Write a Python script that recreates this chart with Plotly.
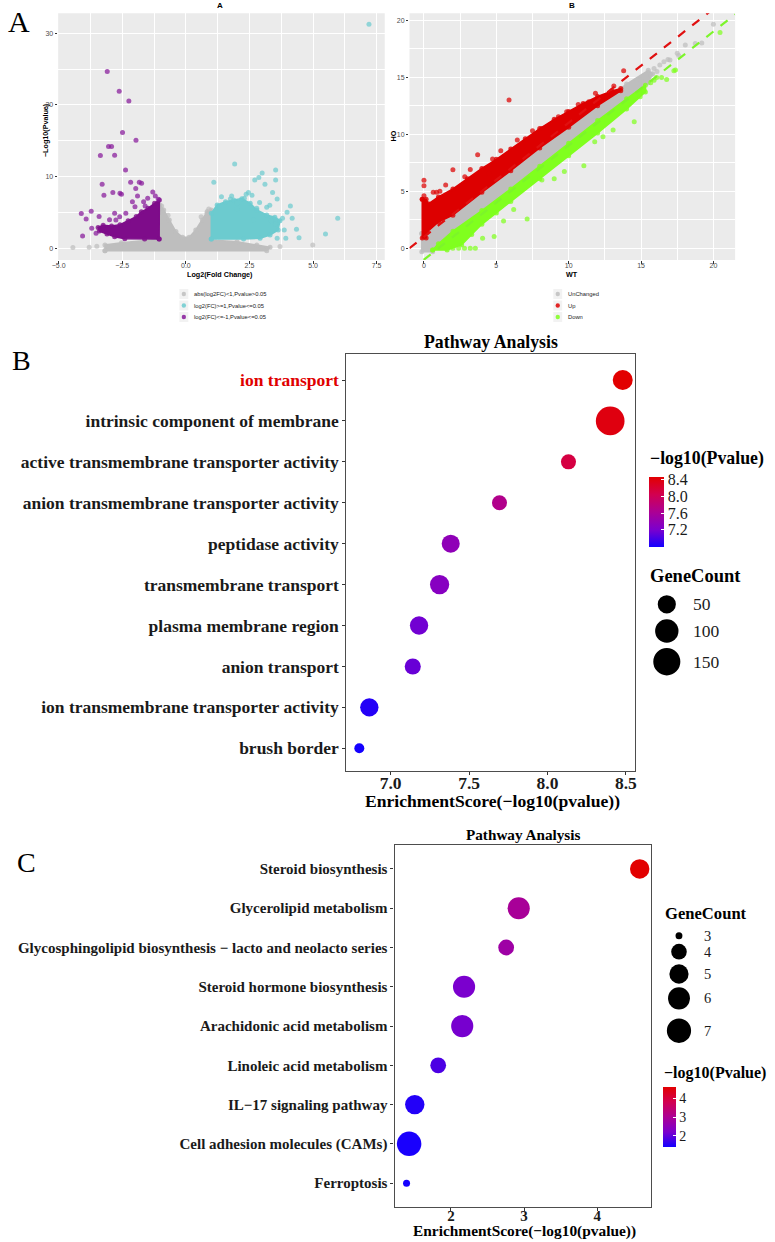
import plotly.graph_objects as go

W, H = 775, 1242
SERIF = "Liberation Serif"
SANS = "Liberation Sans"

# ================= Panel A-left : volcano plot =================
volc_gray_poly_x = [-3.18, -3.18, -2.53, -1.62, -1.08, -1.02, -0.87, -0.65, -0.39, -0.13, 0.13, 0.39, 0.65, 0.84, 1.0, 1.0, 2.01, 2.79, 3.31, 3.18]
volc_gray_poly_y = [-0.33, 0.47, 0.79, 1.07, 1.26, 6.05, 5.35, 3.95, 2.33, 1.53, 1.53, 2.56, 3.95, 5.12, 5.35, 1.16, 0.93, 0.47, 0.14, -0.33]
volc_up_poly_x = [1.0, 1.0, 1.23, 1.56, 1.88, 2.20, 2.53, 2.79, 3.18, 3.50, 3.70, 3.63, 3.31, 2.92, 2.27]
volc_up_poly_y = [1.30, 4.88, 6.05, 6.51, 6.74, 6.93, 6.28, 5.35, 4.65, 4.33, 3.86, 2.56, 1.86, 1.40, 1.30]
volc_down_poly_x = [-1.05, -1.04, -1.23, -1.49, -1.75, -1.95, -2.27, -2.59, -2.92, -3.25, -3.45, -3.40, -3.10, -2.80, -2.40, -1.62]
volc_down_poly_y = [1.30, 6.74, 6.28, 5.58, 5.10, 4.42, 3.85, 3.30, 3.10, 3.20, 2.90, 2.40, 2.00, 1.60, 1.35, 1.30]

volc_gray_x = [-4.44, -3.80, 4.99, 0.83, -3.5, 3.7, -0.95, 0.9, -0.7, 0.6]
volc_gray_y = [0.10, 0.14, 0.47, 4.90, 0.30, 0.25, 5.90, 5.50, 4.6, 4.4]
volc_up_x = [7.20, 1.92, 1.10, 3.53, 3.00, 2.87, 2.71, 3.53, 3.11, 3.41, 2.46, 2.37, 1.75, 3.59, 4.11, 3.98, 4.18, 3.80, 5.97,
             4.35, 4.45, 3.93, 5.49, 3.59, 3.87, 2.79, 2.01, 2.66, 3.18, 2.01, 3.36, 3.52, 1.4, 2.6, 2.9, 3.3, 1.8, 2.3]
volc_up_y = [31.26, 11.77, 9.21, 10.93, 10.51, 9.86, 9.53, 9.53, 8.93, 7.77, 7.77, 7.53, 6.88, 6.88, 5.91, 5.02, 4.19, 4.19, 4.19,
             2.65, 1.49, 1.40, 2.00, 1.40, 2.56, 5.58, 6.28, 3.95, 5.72, 5.53, 3.86, 3.35, 7.2, 7.4, 6.4, 6.0, 7.3, 7.0]
volc_down_x = [-3.09, -2.62, -2.24, -2.49, -1.96, -3.04, -2.92, -3.36, -2.80, -2.37, -3.29, -2.17, -1.83, -1.74, -3.22, -2.87,
               -2.59, -2.53, -1.97, -1.30, -4.11, -3.72, -3.92, -4.06, -3.41, -3.53, -2.75, -2.36, -1.66, -1.08, -1.9, -2.1,
               -1.5, -2.8, -3.0, -1.2, -2.0, -1.6, -2.6, -3.7]
volc_down_y = [24.65, 21.90, 20.56, 16.14, 15.07, 14.19, 14.19, 12.93, 12.98, 10.93, 8.93, 9.21, 9.21, 9.07, 7.40, 7.77,
               7.67, 7.53, 8.33, 7.86, 4.84, 5.16, 4.09, 1.72, 4.42, 2.09, 3.95, 4.88, 6.51, 6.84, 7.3, 6.5,
               7.0, 4.9, 4.0, 7.3, 5.8, 5.9, 4.4, 2.8]
volc_legend_labels = ["abs(log2FC)<1,Pvalue>0.05", "log2(FC)>=1,Pvalue<=0.05", "log2(FC)<=-1,Pvalue<=0.05"]

# ================= Panel A-right : WT vs HO scatter =================
sc_gray_poly_x = [-0.15, 0.2, 1, 2, 4, 6, 8, 10, 12, 14, 15.5, 15.8, 15.5, 14, 12, 10, 8, 6, 4, 2, 1, 0.6, -0.15]
sc_gray_poly_y = [1.3, 1.4, 2.3, 2.9, 4.9, 6.8, 8.8, 10.6, 12.5, 14.4, 15.6, 15.3, 14.5, 13.1, 11.2, 9.2, 7.2, 5.2, 3.3, 1.5, 0.4, -0.3, -0.3]
sc_up_poly_x = [-0.12, 0.15, 0.3, 1, 2, 3, 4, 5, 6, 7, 8, 9, 10, 11, 12, 13, 13.6, 13.6, 12, 10, 8, 6, 4, 2, 1, 0.2, 0.15, -0.12]
sc_up_poly_y = [4.3, 4.3, 3.9, 4.5, 5.2, 6.1, 7.0, 7.8, 8.7, 9.6, 10.5, 11.3, 12.0, 12.7, 13.3, 13.8, 14.0, 13.8, 12.5, 10.6, 8.8, 6.8, 4.9, 2.9, 2.3, 1.4, 0.9, 0.9]
sc_down_poly_x = [0.6, 1, 2, 4, 6, 8, 10, 12, 14, 15.3, 15.3, 14, 12, 10, 8, 6, 5, 4, 3.3, 2.6, 1.6]
sc_down_poly_y = [-0.15, 0.4, 1.5, 3.3, 5.2, 7.2, 9.2, 11.2, 13.1, 14.3, 13.7, 12.2, 10.1, 8.1, 6.1, 4.1, 3.1, 2.1, 1.2, 0.3, -0.15]

sc_gray_x = [20.0, 18.75, 18.06, 17.5, 16.86, 16.58, 15.9, 19.2, 17.6, 17.0, 16.3, 15.67, 14.99, 16.1]
sc_gray_y = [19.65, 17.96, 17.81, 17.1, 16.55, 16.35, 15.77, 18.0, 16.9, 16.5, 16.06, 15.18, 14.74, 15.5]
sc_up_x = [5.88, 13.80, 3.71, 2.00, 2.82, 0.0, 0.0, 0.87, 0.64, 1.50, 4.74, 5.31, 6.45, 6.83, 8.15, 9.29, 9.86, 10.66,
           11.39, 11.85, 13.12, 11.12, 4.51, 0.0, 1.1, 3.2, 7.5]
sc_up_y = [12.99, 15.56, 8.20, 6.89, 6.28, 5.96, 5.49, 4.91, 4.91, 5.55, 7.82, 8.55, 9.49, 8.91, 10.51, 11.53, 11.97, 12.61,
           12.85, 13.58, 14.22, 12.18, 6.57, 4.6, 5.0, 6.9, 10.3]
sc_down_x = [20.46, 17.38, 17.27, 16.77, 16.42, 16.08, 14.53, 13.07, 11.05, 9.70, 7.13, 8.15, 11.80, 12.37, 14.94, 15.22,
             15.67, 15.90, 4.85, 4.05, 3.55, 6.2, 9.0, 5.5, 3.2, 2.8, 2.4, 2.0]
sc_down_y = [18.92, 15.62, 15.56, 14.80, 14.98, 14.98, 11.09, 10.37, 7.24, 6.72, 2.57, 5.99, 9.34, 9.78, 13.28, 13.87,
             14.51, 14.74, 1.02, 0.88, 0.0, 3.4, 6.1, 2.4, 0.0, 0.0, 0.0, 0.0]
sc_fc_line = 1.0
sc_legend_labels = ["UnChanged", "Up", "Down"]

# ================= Panel B : GO pathway analysis =================
go_terms = ["ion transport", "intrinsic component of membrane", "active transmembrane transporter activity",
            "anion transmembrane transporter activity", "peptidase activity", "transmembrane transport",
            "plasma membrane region", "anion transport", "ion transmembrane transporter activity", "brush border"]
go_score = [8.48, 8.40, 8.134, 7.694, 7.383, 7.312, 7.181, 7.141, 6.864, 6.80]
go_logp = [8.48, 8.40, 8.134, 7.694, 7.383, 7.312, 7.181, 7.141, 6.864, 6.80]
go_count = [63, 171, 31, 31, 48, 57, 50, 36, 50, 20]
go_xticks = [7.0, 7.5, 8.0, 8.5]
go_cbar_ticks = [7.2, 7.6, 8.0, 8.4]
go_size_breaks = [50, 100, 150]

# ================= Panel C : KEGG pathway analysis =================
kegg_terms = ["Steroid biosynthesis", "Glycerolipid metabolism",
              "Glycosphingolipid biosynthesis \u2212 lacto and neolacto series", "Steroid hormone biosynthesis",
              "Arachidonic acid metabolism", "Linoleic acid metabolism", "IL\u221217 signaling pathway",
              "Cell adhesion molecules (CAMs)", "Ferroptosis"]
kegg_score = [4.578, 2.926, 2.755, 2.18, 2.155, 1.827, 1.507, 1.43, 1.395]
kegg_logp = [4.578, 2.926, 2.755, 2.18, 2.155, 1.827, 1.507, 1.43, 1.395]
kegg_count = [5, 6, 4, 6, 6, 4, 5, 7, 3]
kegg_xticks = [2, 3, 4]
kegg_cbar_ticks = [2, 3, 4]
kegg_size_breaks = [3, 4, 5, 6, 7]

# ---------------- helpers ----------------
def px_x(p):
    return p / W


def px_y(p):
    return 1 - p / H


def size_map(values, ref, dmin, dmax):
    lo, hi = min(ref), max(ref)
    return [dmin + (dmax - dmin) * ((v - lo) / (hi - lo)) ** 0.5 for v in values]


CSCALE = [[0.0, "rgb(20,0,255)"], [0.25, "rgb(124,0,205)"], [0.5, "rgb(172,0,148)"],
          [0.75, "rgb(210,0,80)"], [1.0, "rgb(226,0,0)"]]

C_GRAY = "#BEBEBE"
C_CYAN = "#6CCBCF"
C_PURPLE = "#7E0C8A"
C_RED = "#DD0000"
C_GREEN = "#80FF1E"

fig = go.Figure()


def poly(x, y, color, xa, ya):
    fig.add_trace(go.Scatter(x=x + [x[0]], y=y + [y[0]], mode="lines+markers", fill="toself", fillcolor=color,
                             line=dict(color=color, width=1.5), marker=dict(size=5, color=color, opacity=0.8),
                             xaxis=xa, yaxis=ya, showlegend=False, hoverinfo="skip"))


def pts(x, y, color, xa, ya, size=5):
    fig.add_trace(go.Scatter(x=x, y=y, mode="markers", marker=dict(color=color, size=size, opacity=0.72, line=dict(width=0)),
                             xaxis=xa, yaxis=ya, showlegend=False))


# volcano
poly(volc_gray_poly_x, volc_gray_poly_y, C_GRAY, "x", "y")
pts(volc_gray_x, volc_gray_y, C_GRAY, "x", "y")
poly(volc_up_poly_x, volc_up_poly_y, C_CYAN, "x", "y")
pts(volc_up_x, volc_up_y, C_CYAN, "x", "y")
poly(volc_down_poly_x, volc_down_poly_y, C_PURPLE, "x", "y")
pts(volc_down_x, volc_down_y, "#86199A", "x", "y")

# WT vs HO
poly(sc_gray_poly_x, sc_gray_poly_y, C_GRAY, "x2", "y2")
pts(sc_gray_x, sc_gray_y, C_GRAY, "x2", "y2")
poly(sc_up_poly_x, sc_up_poly_y, C_RED, "x2", "y2")
pts(sc_up_x, sc_up_y, C_RED, "x2", "y2")
poly(sc_down_poly_x, sc_down_poly_y, C_GREEN, "x2", "y2")
pts(sc_down_x, sc_down_y, C_GREEN, "x2", "y2")
sc_xr = [-1.0, 21.5]
fig.add_trace(go.Scatter(x=sc_xr, y=[v + sc_fc_line for v in sc_xr], mode="lines",
                         line=dict(color="#E01010", width=2.2, dash="dash"), xaxis="x2", yaxis="y2", showlegend=False))
fig.add_trace(go.Scatter(x=sc_xr, y=[v - sc_fc_line for v in sc_xr], mode="lines",
                         line=dict(color="#7CF52A", width=2.2, dash="dash"), xaxis="x2", yaxis="y2", showlegend=False))

# GO bubbles
fig.add_trace(go.Scatter(
    x=go_score, y=go_terms, mode="markers", xaxis="x3", yaxis="y3", showlegend=False,
    marker=dict(size=size_map(go_count, go_count, 10, 28.7), color=go_logp, colorscale=CSCALE,
                cmin=min(go_logp), cmax=max(go_logp), line=dict(width=0), opacity=1,
                colorbar=dict(x=px_x(650), xanchor="left", y=px_y(511.5), yanchor="middle", len=69.6, lenmode="pixels",
                              thickness=15, thicknessmode="pixels", outlinewidth=0, xpad=0, ypad=0,
                              tickvals=go_cbar_ticks, ticktext=[f"{v:.1f}" for v in go_cbar_ticks],
                              ticks="inside", ticklen=3, tickcolor="white",
                              tickfont=dict(family=SERIF, size=16, color="#1A1A1A")))))

# KEGG bubbles
fig.add_trace(go.Scatter(
    x=kegg_score, y=kegg_terms, mode="markers", xaxis="x4", yaxis="y4", showlegend=False,
    marker=dict(size=size_map(kegg_count, kegg_count, 7, 24.5), color=kegg_logp, colorscale=CSCALE,
                cmin=min(kegg_logp), cmax=max(kegg_logp), line=dict(width=0), opacity=1,
                colorbar=dict(x=px_x(664), xanchor="left", y=px_y(1117.3), yanchor="middle", len=59.5, lenmode="pixels",
                              thickness=13, thicknessmode="pixels", outlinewidth=0, xpad=0, ypad=0,
                              tickvals=kegg_cbar_ticks, ticktext=[str(v) for v in kegg_cbar_ticks],
                              ticks="inside", ticklen=3, tickcolor="white",
                              tickfont=dict(family=SERIF, size=14, color="#1A1A1A")))))

# ---- legends drawn on a full-page pixel overlay (x5/y5) ----
shapes = []
annotations = []
leg_rows = [294, 305.5, 317]
for lx, colors, labels in [(179.7, [C_GRAY, C_CYAN, "#86199A"], volc_legend_labels),
                           (557.5, [C_GRAY, C_RED, C_GREEN], sc_legend_labels)]:
    for ry, col, lab in zip(leg_rows, colors, labels):
        shapes.append(dict(type="rect", xref="x5", yref="y5", x0=lx - 4.5, x1=lx + 4.5, y0=ry - 5, y1=ry + 5,
                           fillcolor="#F2F2F2", line=dict(width=0), layer="below"))
        shapes.append(dict(type="circle", xref="x5", yref="y5", x0=lx - 2.2, x1=lx + 2.2, y0=ry - 2.2, y1=ry + 2.2,
                           fillcolor=col, opacity=0.85, line=dict(width=0), layer="above"))
        annotations.append(dict(x=px_x(lx + 8), y=px_y(ry), xref="paper", yref="paper", text=lab, showarrow=False,
                                xanchor="left", yanchor="middle", font=dict(family=SANS, size=5.8, color="#1A1A1A")))


def size_legend(breaks, ref, dmin, dmax, cx, ys, label_x, font_size):
    for v, d, yy in zip(breaks, size_map(breaks, ref, dmin, dmax), ys):
        shapes.append(dict(type="circle", xref="x5", yref="y5", x0=cx - d / 2, x1=cx + d / 2, y0=yy - d / 2,
                           y1=yy + d / 2, fillcolor="#000000", line=dict(width=0), layer="above"))
        annotations.append(dict(x=px_x(label_x), y=px_y(yy), xref="paper", yref="paper", text=str(v), showarrow=False,
                                xanchor="left", yanchor="middle",
                                font=dict(family=SERIF, size=font_size, color="#1A1A1A")))


size_legend(go_size_breaks, go_count, 10, 28.7, 667.7, [604.3, 631, 661.7], 692, 17.5)
size_legend(kegg_size_breaks, kegg_count, 7, 24.5, 680, [935.7, 951.7, 974, 998.3, 1030.7], 703, 14.5)

# an invisible anchor trace so the overlay axes exist
fig.add_trace(go.Scatter(x=[0], y=[0], mode="markers", marker=dict(size=1, opacity=0), xaxis="x5", yaxis="y5",
                         showlegend=False, hoverinfo="skip"))

# gray ggplot panels
for xr, yr in [("x domain", "y domain"), ("x2 domain", "y2 domain")]:
    shapes.append(dict(type="rect", xref=xr, yref=yr, x0=0, x1=1, y0=0, y1=1, fillcolor="#EBEBEB",
                       line=dict(width=0), layer="below"))


def ann(text, x, y, size, family=SERIF, bold=False, anchor="center", angle=0, color="black"):
    annotations.append(dict(text=f"<b>{text}</b>" if bold else text, x=px_x(x), y=px_y(y), xref="paper", yref="paper",
                            showarrow=False, xanchor=anchor, yanchor="middle", textangle=angle,
                            font=dict(family=family, size=size, color=color)))


ann("A", 13, 22, 30)
ann("B", 16, 361, 28)
ann("C", 21, 862, 28)
ann("A", 216.7, 5.5, 8, SANS, True)
ann("B", 571.7, 5.5, 8, SANS, True)
ann("Log2(Fold Change)", 216.7, 274.5, 7.2, SANS, True)
ann("\u2212Log10(Pvalue)", 39.5, 130, 7.2, SANS, True, angle=-90)
ann("WT", 571.7, 274.5, 7.2, SANS, True)
ann("HO", 391.5, 136, 7.2, SANS, True, angle=-90)
ann("Pathway Analysis", 490.5, 341.7, 17.8, bold=True)
ann("EnrichmentScore(\u2212log10(pvalue))", 491.5, 800.7, 17.6, bold=True)
ann("\u2212log10(Pvalue)", 649, 458.3, 17.8, bold=True, anchor="left")
ann("GeneCount", 649, 575.7, 18.5, bold=True, anchor="left")
ann("Pathway Analysis", 522.5, 834, 15.2, bold=True)
ann("EnrichmentScore(\u2212log10(pvalue))", 523.5, 1231, 15.4, bold=True)
ann("GeneCount", 664, 913.3, 16.6, bold=True, anchor="left")
ann("\u2212log10(Pvalue)", 663, 1072.7, 16, bold=True, anchor="left")

gg_tickfont = dict(family=SANS, size=7, color="#4D4D4D")
gg_x = dict(showgrid=True, gridcolor="white", gridwidth=1.1, ticks="outside", ticklen=2.5, tickwidth=0.8,
            tickcolor="#333333", tickfont=gg_tickfont, zeroline=False, showline=False, ticklabelstandoff=-4)
gg_y = dict(showgrid=True, gridcolor="white", gridwidth=1.1, ticks="outside", ticklen=2.5, tickwidth=0.8,
            tickcolor="#333333", tickfont=gg_tickfont, zeroline=False, showline=False)

box_common = dict(showline=True, mirror=True, linecolor="#4D4D4D", linewidth=1.3, ticks="outside", ticklen=3,
                  tickwidth=1, tickcolor="#333333", showgrid=False, zeroline=False)

go_ticktext = [f'<span style="color:#E00000">{t}</span>' if t == "ion transport" else t for t in go_terms]

fig.update_layout(
    width=W, height=H, autosize=False, margin=dict(l=0, r=0, t=0, b=0),
    paper_bgcolor="white", plot_bgcolor="rgba(0,0,0,0)", showlegend=False,
    font=dict(family=SERIF),
    xaxis=dict(domain=[px_x(52.7), px_x(382.7)], range=[-5.02, 7.82], anchor="y", tick0=0, dtick=2.5, tickformat=".1f",
               minor=dict(dtick=1.25, tick0=0, showgrid=True, gridcolor="white", gridwidth=0.5), **gg_x),
    yaxis=dict(domain=[px_y(260), px_y(13.3)], range=[-1.63, 32.78], anchor="x", tick0=0, dtick=10,
               minor=dict(dtick=5, tick0=0, showgrid=True, gridcolor="white", gridwidth=0.5), **gg_y),
    xaxis2=dict(domain=[px_x(407.7), px_x(736.7)], range=[-1.0, 21.5], anchor="y2", tick0=0, dtick=5,
                minor=dict(dtick=2.5, tick0=0, showgrid=True, gridcolor="white", gridwidth=0.5), **gg_x),
    yaxis2=dict(domain=[px_y(260), px_y(13.3)], range=[-1.03, 20.6], anchor="x2", tick0=0, dtick=5,
                minor=dict(dtick=2.5, tick0=0, showgrid=True, gridcolor="white", gridwidth=0.5), **gg_y),
    xaxis3=dict(domain=[px_x(344), px_x(636)], range=[6.718, 8.561], anchor="y3", tickvals=go_xticks,
                ticktext=[f"{v:.1f}" for v in go_xticks], ticklabelstandoff=-7,
                tickfont=dict(family=SERIF, size=17.5, color="#1A1A1A", weight="bold"), **box_common),
    yaxis3=dict(domain=[px_y(770.7), px_y(354.3)], type="category", categoryarray=go_terms[::-1],
                range=[-0.548, 9.628], anchor="x3", tickvals=go_terms, ticktext=go_ticktext,
                tickfont=dict(family=SERIF, size=17.5, color="#1A1A1A", weight="bold"), **box_common),
    xaxis4=dict(domain=[px_x(392.6), px_x(652)], range=[1.231, 4.736], anchor="y4", tickvals=kegg_xticks,
                ticktext=[str(v) for v in kegg_xticks], ticklabelstandoff=-8,
                tickfont=dict(family=SERIF, size=15, color="#1A1A1A", weight="bold"), **box_common),
    yaxis4=dict(domain=[px_y(1206.7), px_y(845)], type="category", categoryarray=kegg_terms[::-1],
                range=[-0.6, 8.61], anchor="x4",
                tickfont=dict(family=SERIF, size=15, color="#1A1A1A", weight="bold"), **box_common),
    xaxis5=dict(domain=[0, 1], range=[0, W], anchor="y5", visible=False, fixedrange=True),
    yaxis5=dict(domain=[0, 1], range=[H, 0], anchor="x5", visible=False, fixedrange=True),
    shapes=shapes, annotations=annotations,
)

fig.write_html("out.html")
